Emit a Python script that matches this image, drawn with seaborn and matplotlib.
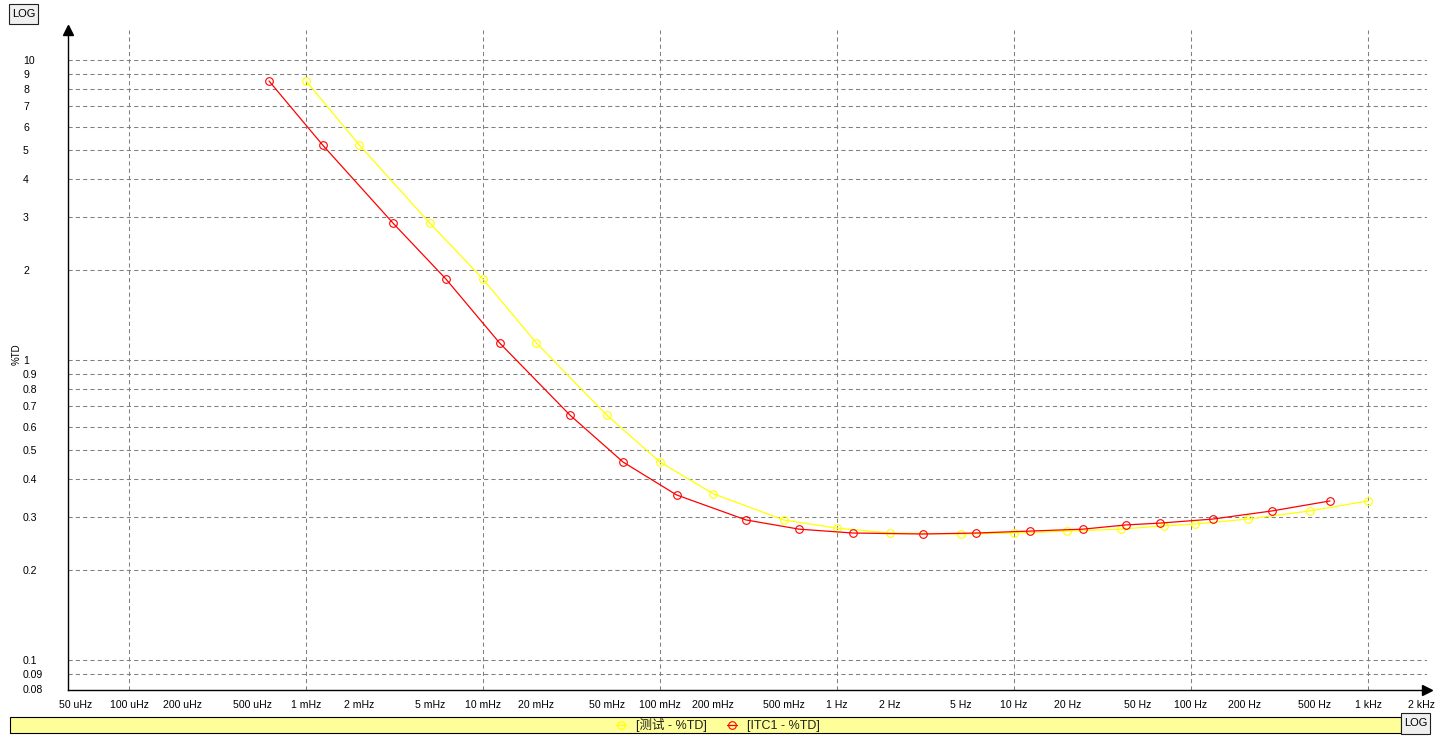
import matplotlib
matplotlib.use("Agg")
import matplotlib.pyplot as plt
from matplotlib.patches import Rectangle
from matplotlib.ticker import NullFormatter, NullLocator
import seaborn as sns

# %TD measured curves, frequency in Hz
test_freq = [0.001, 0.002, 0.005, 0.01, 0.02, 0.05, 0.1, 0.2, 0.5, 1, 2, 5,
             10, 20, 40, 70, 105, 210, 470, 1000]
test_td = [8.51, 5.21, 2.86, 1.86, 1.14, 0.655, 0.457, 0.358, 0.293, 0.275,
           0.265, 0.263, 0.265, 0.269, 0.273, 0.280, 0.284, 0.295, 0.314, 0.339]

itc_freq = [0.000618, 0.00124, 0.0031, 0.00618, 0.0124, 0.031, 0.0618, 0.124,
            0.306, 0.61, 1.23, 3.06, 6.1, 12.3, 24.5, 43, 67, 133, 287, 610]
itc_td = [8.51, 5.21, 2.86, 1.86, 1.14, 0.655, 0.457, 0.355, 0.293, 0.273,
          0.265, 0.263, 0.265, 0.269, 0.273, 0.282, 0.286, 0.295, 0.314, 0.339]

series_names = ["[测试 - %TD]", "[ITC1 - %TD]"]
series_colors = ["#FFFF00", "#FF0000"]

xtick_vals = [5e-5, 1e-4, 2e-4, 5e-4, 1e-3, 2e-3, 5e-3, 1e-2, 2e-2, 5e-2,
              0.1, 0.2, 0.5, 1, 2, 5, 10, 20, 50, 100, 200, 500, 1000, 2000]
xtick_labels = ["50 uHz", "100 uHz", "200 uHz", "500 uHz", "1 mHz", "2 mHz",
                "5 mHz", "10 mHz", "20 mHz", "50 mHz", "100 mHz", "200 mHz",
                "500 mHz", "1 Hz", "2 Hz", "5 Hz", "10 Hz", "20 Hz", "50 Hz",
                "100 Hz", "200 Hz", "500 Hz", "1 kHz", "2 kHz"]
ytick_vals = [0.08, 0.09, 0.1, 0.2, 0.3, 0.4, 0.5, 0.6, 0.7, 0.8, 0.9,
              1, 2, 3, 4, 5, 6, 7, 8, 9, 10]
ytick_labels = ["0.08", "0.09", "0.1", "0.2", "0.3", "0.4", "0.5", "0.6", "0.7",
                "0.8", "0.9", "1", "2", "3", "4", "5", "6", "7", "8", "9", "10"]

W, H = 1439, 744

sns.set_theme(style="white")
plt.rcParams["font.family"] = ["Liberation Sans", "Noto Sans CJK SC"]

fig = plt.figure(figsize=(W / 100, H / 100), dpi=100)
fig.patch.set_facecolor("white")
ax = fig.add_axes([68 / W, 1 - 690 / H, (1427 - 68) / W, 660 / H])
ax.set_facecolor("white")
ax.set_xscale("log")
ax.set_yscale("log")

# grid: decades on x, labelled values on y
grid_kw = dict(color="#808080", lw=0.75, ls=(0, (4, 3)), zorder=0)
for k in range(-4, 4):
    ax.axvline(10.0 ** k, **grid_kw)
for v in ytick_vals[1:]:
    ax.axhline(v, **grid_kw)

for freq, td, color, name in zip([test_freq, itc_freq], [test_td, itc_td],
                                 series_colors, series_names):
    sns.lineplot(x=freq, y=td, ax=ax, color=color, lw=0.9, marker="o", ms=5.5,
                 mfc="none", mec=color, mew=0.8, label=name, sort=False)

ax.set_xlim(4.52e-5, 2154)
ax.set_ylim(0.07943, 12.59)

ax.set_xticks(xtick_vals)
ax.set_xticklabels(xtick_labels)
minor_x = [m * 10.0 ** k for k in range(-5, 4) for m in (3, 4, 6, 7, 8, 9)]
minor_x = [v for v in minor_x if 4.52e-5 < v < 2154 and v not in xtick_vals]
ax.set_xticks(minor_x, minor=True)
ax.xaxis.set_minor_formatter(NullFormatter())
ax.tick_params(axis="x", which="major", length=5, width=0.8, color="black",
               direction="out", pad=2, labelsize=7.6, labelcolor="black")
ax.tick_params(axis="x", which="minor", length=3.5, width=0.8, color="black",
               direction="out")

ax.set_yticks(ytick_vals)
ax.set_yticklabels(ytick_labels)
ax.yaxis.set_minor_locator(NullLocator())
ax.tick_params(axis="y", length=0, pad=32.4, labelsize=7.6, labelcolor="black")
for lbl in ax.get_yticklabels():
    lbl.set_horizontalalignment("left")

for side in ("top", "right"):
    ax.spines[side].set_visible(False)
for side in ("left", "bottom"):
    ax.spines[side].set_color("black")
    ax.spines[side].set_linewidth(1.0)

# axis arrows
ax.plot(0, 1, marker="^", ms=7, color="black", transform=ax.transAxes, clip_on=False)
ax.plot(1, 0, marker=">", ms=7, color="black", transform=ax.transAxes, clip_on=False)

ax.set_xlabel("")
ax.set_ylabel("")
fig.text(17 / W, 1 - 354 / H, "%TD", rotation=90, ha="center", va="center",
         fontsize=7, color="black")

# legend bar at the bottom
fig.add_artist(Rectangle((10 / W, 1 - 733 / H), 1391 / W, 16 / H,
                         transform=fig.transFigure, facecolor="#FFFF99",
                         edgecolor="black", lw=0.8, zorder=1))
handles, labels = ax.get_legend_handles_labels()
ax.get_legend().remove()
fig.legend(handles, labels, loc="center", bbox_to_anchor=(718 / W, 1 - 725 / H),
           bbox_transform=fig.transFigure, ncol=2, frameon=False, fontsize=9,
           handlelength=0.8, handletextpad=0.8, columnspacing=1.6,
           labelcolor="#202020", borderpad=0, borderaxespad=0)

# LOG buttons
for x0, y0, w, h in ((9, 4, 29, 20), (1401, 713, 29, 21)):
    fig.add_artist(Rectangle((x0 / W, 1 - (y0 + h) / H), w / W, h / H,
                             transform=fig.transFigure, facecolor="#F0F0F0",
                             edgecolor="#202020", lw=0.8, zorder=2))
    fig.text((x0 + w / 2) / W, 1 - (y0 + h / 2) / H, "LOG", ha="center",
             va="center", fontsize=8, color="black", zorder=3)

fig.savefig("out.png", dpi=100)
